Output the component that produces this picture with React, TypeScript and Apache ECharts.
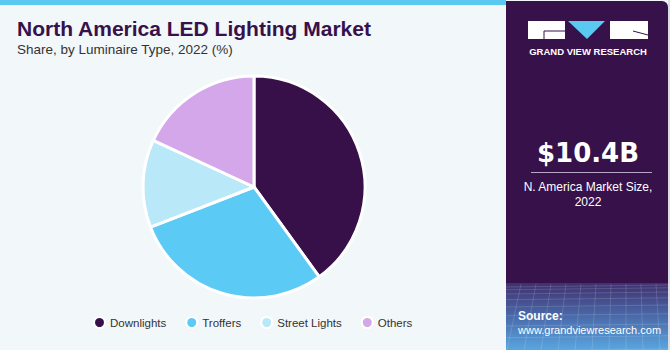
import React, { useEffect, useRef } from "react";
import * as echarts from "echarts";

const categories = ["Downlights", "Troffers", "Street Lights", "Others"];
const shares = [40.0, 29.1, 12.8, 18.1];
const colors = ["#37104a", "#5bcbf5", "#b9e8f8", "#d4a6ea"];

const titleText = "North America LED Lighting Market";
const subtitleText = "Share, by Luminaire Type, 2022 (%)";
const marketValue = "$10.4B";
const marketLabel1 = "N. America Market Size,";
const marketLabel2 = "2022";

export default function App() {
  const ref = useRef<HTMLDivElement>(null);
  useEffect(() => {
    document.body.style.margin = "0";
    const chart = echarts.init(ref.current!, null, { renderer: "svg" });
    const font = "'Liberation Sans', Arial, sans-serif";
    const mesh: any[] = [];
    for (let i = 0; i < 12; i++) {
      mesh.push({
        type: "line",
        shape: { x1: 506 + i * 15, y1: 284, x2: 490 + i * 17, y2: 350 },
        style: { stroke: "rgba(255,255,255,0.18)", lineWidth: 0.8 },
        silent: true,
      });
    }
    for (let j = 0; j < 10; j++) {
      const y = 287 + j * j * 0.75 + j * 2;
      mesh.push({
        type: "line",
        shape: { x1: 506, y1: y, x2: 670, y2: y - 2 },
        style: { stroke: "rgba(255,255,255,0.18)", lineWidth: 0.8 },
        silent: true,
      });
    }
    chart.setOption({
      animation: false,
      backgroundColor: "#f2f7fa",
      legend: {
        data: categories,
        left: 88,
        top: 311,
        icon: "circle",
        itemWidth: 11,
        itemHeight: 11,
        itemGap: 19,
        textStyle: { color: "#333333", fontSize: 11.5, fontFamily: font },
        selectedMode: false,
      },
      graphic: [
        { type: "rect", shape: { x: 0, y: 0, width: 506, height: 5 }, style: { fill: "#5bc8f2" } },
        {
          type: "rect",
          shape: { x: 506, y: 1, width: 162, height: 349, r: [0, 6, 0, 0] },
          style: { fill: "#37114a" },
        },
        { type: "rect", shape: { x: 668, y: 0, width: 2, height: 350 }, style: { fill: "#dcdde2" } },
        {
          type: "rect",
          shape: { x: 506, y: 283, width: 162, height: 67 },
          style: {
            fill: new echarts.graphic.LinearGradient(0, 0, 0, 1, [
              { offset: 0, color: "#40306e" },
              { offset: 0.5, color: "#4a6aaa" },
              { offset: 1, color: "#5aa6e0" },
            ]),
          },
        },
        ...mesh,
        // logo
        { type: "rect", shape: { x: 528, y: 21, width: 37, height: 18 }, style: { fill: "#ffffff" } },
        {
          type: "polyline",
          shape: { points: [[565, 31], [544, 31], [544, 39]] },
          style: { stroke: "#37114a", lineWidth: 1, fill: null },
        },
        { type: "polygon", shape: { points: [[568, 21], [605, 21], [587, 39]] }, style: { fill: "#5bc8f2" } },
        { type: "rect", shape: { x: 610, y: 21, width: 38, height: 18 }, style: { fill: "#ffffff" } },
        {
          type: "line",
          shape: { x1: 633, y1: 31, x2: 648, y2: 35 },
          style: { stroke: "#37114a", lineWidth: 1 },
        },
        {
          type: "text",
          x: 588,
          y: 51,
          style: {
            text: "GRAND VIEW RESEARCH",
            fill: "#ffffff",
            font: `bold 9.5px ${font}`,
            align: "center",
            verticalAlign: "middle",
          },
        },
        {
          type: "text",
          x: 17,
          y: 28,
          style: {
            text: titleText,
            fill: "#37114a",
            font: `bold 21px ${font}`,
            verticalAlign: "middle",
          },
        },
        {
          type: "text",
          x: 17,
          y: 49,
          style: {
            text: subtitleText,
            fill: "#333333",
            font: `13.5px ${font}`,
            verticalAlign: "middle",
          },
        },
        {
          type: "text",
          x: 588,
          y: 153,
          style: {
            text: marketValue,
            fill: "#ffffff",
            font: `bold 26px 'DejaVu Sans', sans-serif`,
            align: "center",
            verticalAlign: "middle",
          },
        },
        {
          type: "line",
          shape: { x1: 531, y1: 172.5, x2: 652, y2: 172.5 },
          style: { stroke: "#b8a8c8", lineWidth: 1 },
        },
        {
          type: "text",
          x: 588,
          y: 187,
          style: {
            text: marketLabel1,
            fill: "#ffffff",
            font: `12px ${font}`,
            align: "center",
            verticalAlign: "middle",
          },
        },
        {
          type: "text",
          x: 588,
          y: 202,
          style: {
            text: marketLabel2,
            fill: "#ffffff",
            font: `12px ${font}`,
            align: "center",
            verticalAlign: "middle",
          },
        },
        {
          type: "text",
          x: 518,
          y: 316,
          style: {
            text: "Source:",
            fill: "#ffffff",
            font: `bold 12px ${font}`,
            verticalAlign: "middle",
          },
        },
        {
          type: "text",
          x: 518,
          y: 330,
          style: {
            text: "www.grandviewresearch.com",
            fill: "#ffffff",
            font: `11px ${font}`,
            verticalAlign: "middle",
          },
        },
      ],
      series: [
        {
          type: "pie",
          center: [254, 187],
          radius: 111,
          startAngle: 90,
          clockwise: true,
          label: { show: false },
          labelLine: { show: false },
          emphasis: { disabled: true },
          itemStyle: { borderColor: "#ffffff", borderWidth: 3 },
          data: categories.map((name, i) => ({
            name,
            value: shares[i],
            itemStyle: { color: colors[i] },
          })),
        },
      ],
    });
    return () => chart.dispose();
  }, []);
  return <div ref={ref} style={{ width: 670, height: 350 }} />;
}
